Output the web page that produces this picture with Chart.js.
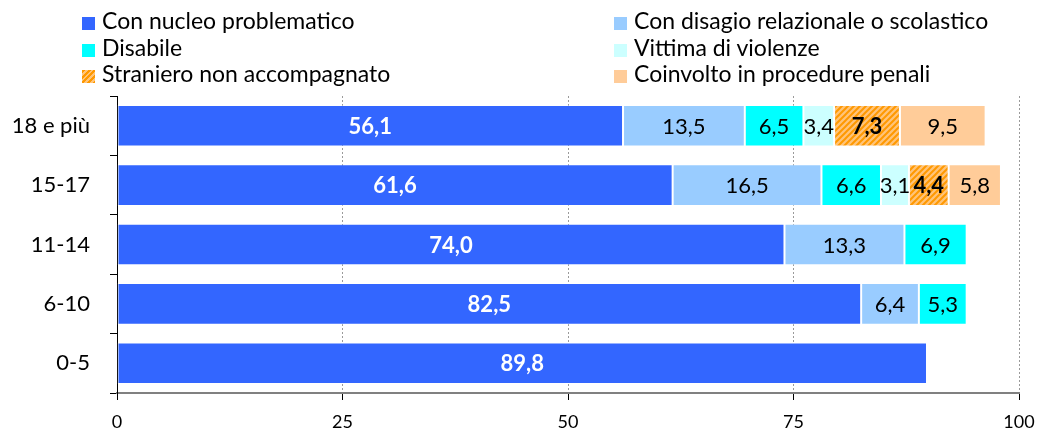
<!DOCTYPE html>
<html>
<head>
<meta charset="utf-8">
<script src="https://cdn.jsdelivr.net/npm/chart.js@4"></script>
<style>
  body { margin: 0; background: #fff; }
  #wrap { position: relative; width: 1040px; height: 430px; }
  #legend { position: absolute; left: 82px; top: 7px; width: 960px; font-family: Lato, sans-serif; font-size: 23px; color: #000; }
  .item { position: absolute; height: 26px; line-height: 26px; white-space: nowrap; }
  .box { display: inline-block; width: 13px; height: 13px; margin-right: 7px; vertical-align: -1px; }
</style>
</head>
<body>
<div id="wrap">
  <canvas id="myChart" width="1040" height="430"></canvas>
  <div id="legend"></div>
</div>
<script>
const categories = ['18 e più', '15-17', '11-14', '6-10', '0-5'];
const nucleo = [56.1, 61.6, 74.0, 82.5, 89.8];
const disagio = [13.5, 16.5, 13.3, 6.4, null];
const disabile = [6.5, 6.6, 6.9, 5.3, null];
const vittima = [3.4, 3.1, null, null, null];
const straniero = [7.3, 4.4, null, null, null];
const penali = [9.5, 5.8, null, null, null];
const xTicks = [0, 25, 50, 75, 100];

/* pattern a righe per "straniero" */
let makeHatch = () => {
    const c = document.createElement('canvas');
    c.width = 6; c.height = 6;
    const g = c.getContext('2d');
    g.fillStyle = '#FFC47A';
    g.fillRect(0, 0, 6, 6);
    g.strokeStyle = '#FF9900';
    g.lineWidth = 2;
    g.beginPath();
    g.moveTo(-1, 7); g.lineTo(7, -1);
    g.moveTo(-4, 4); g.lineTo(4, -4);
    g.moveTo(2, 10); g.lineTo(10, 2);
    g.stroke();
    return g.createPattern(c, 'repeat');
}
const hatch = makeHatch();

const series = [
    { label: 'Con nucleo problematico', data: nucleo, color: '#3366FF', css: '#3366FF', txt: '#fff', bold: true },
    { label: 'Con disagio relazionale o scolastico', data: disagio, color: '#99CCFF', css: '#99CCFF', txt: '#000', bold: false },
    { label: 'Disabile', data: disabile, color: '#00FFFF', css: '#00FFFF', txt: '#000', bold: false },
    { label: 'Vittima di violenze', data: vittima, color: '#CCFFFF', css: '#CCFFFF', txt: '#000', bold: false },
    { label: 'Straniero non accompagnato', data: straniero, color: hatch, css: 'repeating-linear-gradient(-45deg, #FF9900 0 2px, #FFC47A 2px 4px)', txt: '#000', bold: true },
    { label: 'Coinvolto in procedure penali', data: penali, color: '#FFCC99', css: '#FFCC99', txt: '#000', bold: false }
];

/* legenda a due colonne */
const legend = document.getElementById('legend');
series.forEach((s, i) => {
    const d = document.createElement('div');
    d.className = 'item';
    d.style.left = (i % 2 === 0 ? 0 : 532) + 'px';
    d.style.top = (Math.floor(i / 2) * 26.5) + 'px';
    d.innerHTML = '<span class="box" style="background:' + s.css + '"></span>' + s.label;
    legend.appendChild(d);
});

const barLabels = {
    id: 'barLabels',
    afterDatasetsDraw(chart) {
        const ctx = chart.ctx;
        ctx.save();
        ctx.textAlign = 'center';
        ctx.textBaseline = 'middle';
        chart.data.datasets.forEach((ds, i) => {
            const s = series[i];
            chart.getDatasetMeta(i).data.forEach((el, j) => {
                const v = ds.data[j];
                if (v == null) return;
                const p = el.getCenterPoint();
                ctx.fillStyle = s.txt;
                ctx.font = (s.bold ? 'bold ' : '') + '22px Lato, sans-serif';
                ctx.fillText(v.toFixed(1).replace('.', ','), p.x, p.y + 1);
            });
        });
        ctx.restore();
    }
};

const ctx = document.getElementById('myChart');
new Chart(ctx, {
    type: 'bar',
    data: {
        labels: categories,
        datasets: series.map(s => ({
            label: s.label,
            data: s.data,
            backgroundColor: s.color,
            borderColor: 'rgba(255,255,255,0.35)',
            borderWidth: 1,
            borderSkipped: false,
            categoryPercentage: 1,
            barPercentage: 0.7
        }))
    },
    options: {
        indexAxis: 'y',
        responsive: false,
        animation: false,
        layout: { padding: { top: 96, right: 21, bottom: 0, left: 0 } },
        plugins: { legend: { display: false }, tooltip: { enabled: false } },
        scales: {
            x: {
                stacked: true,
                min: 0,
                max: 100,
                afterBuildTicks: (scale) => { scale.ticks = xTicks.map(v => ({ value: v })); },
                afterFit: (scale) => { scale.height = 37; scale.paddingRight = 0; scale.paddingLeft = 0; },
                grid: {
                    color: (c) => c.tick && c.tick.value === 0 ? 'rgba(0,0,0,0)' : '#9a9a9a',
                    tickColor: '#000',
                    tickLength: 7,
                    tickBorderDash: [],
                    lineWidth: 1
                },
                border: { color: '#808080', width: 2, dash: [2, 2] },
                ticks: { color: '#000', padding: 11, font: { family: 'Lato', size: 18 } }
            },
            y: {
                stacked: true,
                afterFit: (scale) => { scale.width = 117; },
                grid: { offset: true, drawOnChartArea: false, tickLength: 7, tickColor: '#000' },
                border: { color: '#000', width: 1 },
                ticks: { color: '#000', padding: 20, font: { family: 'Lato', size: 22 } }
            }
        }
    },
    plugins: [barLabels]
});
</script>
</body>
</html>
